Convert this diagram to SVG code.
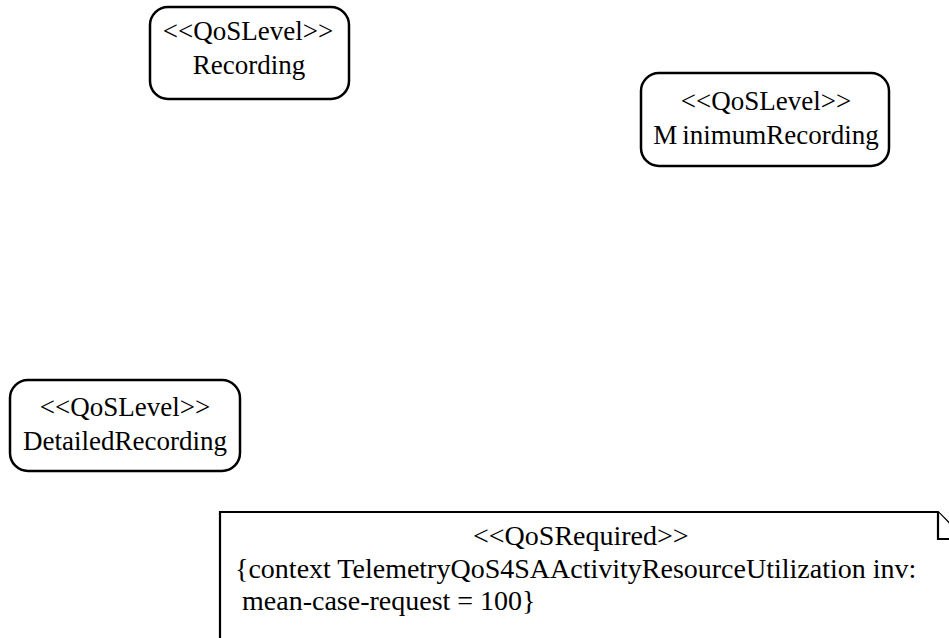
<svg xmlns="http://www.w3.org/2000/svg" width="949" height="638" viewBox="0 0 949 638">
  <style>
    .level { fill: #ffffff; stroke: #000000; stroke-width: 2.5; }
    .note { fill: #ffffff; stroke: #000000; stroke-width: 2.2; stroke-linejoin: miter; }
    text { font-family: 'Liberation Serif', 'Times New Roman', Times, 'DejaVu Serif', serif; fill: #000000; }
    .lbl { font-size: 27px; text-anchor: middle; }
    .ntxt { font-size: 28px; }
  </style>
  <rect x="0" y="0" width="949" height="638" fill="#ffffff"/>

  <!-- QoS levels -->
  <g id="recording">
    <rect class="level" x="150" y="7" width="199" height="92" rx="18" ry="18"/>
    <text class="lbl" x="248" y="40" font-family="Liberation Serif, serif">&lt;&lt;QoSLevel&gt;&gt;</text>
    <text class="lbl" x="249" y="74" font-family="Liberation Serif, serif">Recording</text>
  </g>

  <g id="minimum-recording">
    <rect class="level" x="641" y="73" width="248" height="93" rx="18" ry="18"/>
    <text class="lbl" x="766" y="110" font-family="Liberation Serif, serif">&lt;&lt;QoSLevel&gt;&gt;</text>
    <text class="lbl" x="766" y="144" font-family="Liberation Serif, serif"><tspan>M</tspan><tspan dx="5">inimumRecording</tspan></text>
  </g>

  <g id="detailed-recording">
    <rect class="level" x="10" y="380" width="230" height="91" rx="18" ry="18"/>
    <text class="lbl" x="125" y="416" font-family="Liberation Serif, serif">&lt;&lt;QoSLevel&gt;&gt;</text>
    <text class="lbl" x="125" y="450" font-family="Liberation Serif, serif">DetailedRecording</text>
  </g>

  <!-- QoS requirement note with folded corner -->
  <g id="qos-required">
    <path class="note" d="M220,660 V512 H938 L964,538 V660 Z"/>
    <path class="note" fill="none" d="M938,512 V539 H964"/>
    <text class="ntxt" x="473" y="545" font-family="Liberation Serif, serif">&lt;&lt;QoSRequired&gt;&gt;</text>
    <text class="ntxt" x="235" y="578" font-family="Liberation Serif, serif">{context TelemetryQoS4SAActivityResourceUtilization inv:</text>
    <text class="ntxt" x="235" y="610" font-family="Liberation Serif, serif" xml:space="preserve"> mean-case-request = 100}</text>
  </g>

  <g id="connectors"/>
</svg>
